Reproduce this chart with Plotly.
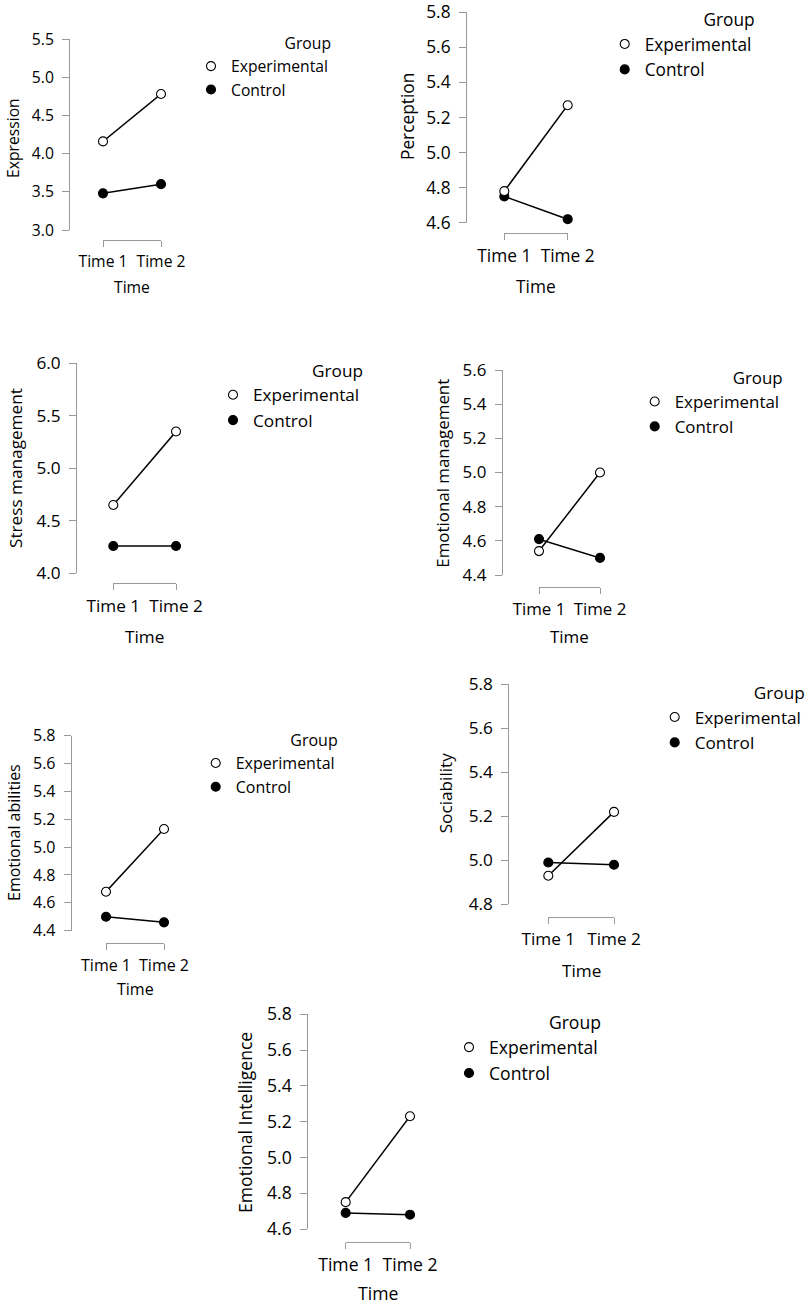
import plotly.graph_objects as go

W, H = 807, 1307

times = ["Time 1", "Time 2"]
groups = ["Experimental", "Control"]

panel_names = [
    "Expression",
    "Perception",
    "Stress management",
    "Emotional management",
    "Emotional abilities",
    "Sociability",
    "Emotional Intelligence",
]

experimental = [
    [4.16, 4.78],
    [4.78, 5.27],
    [4.65, 5.35],
    [4.54, 5.00],
    [4.68, 5.13],
    [4.93, 5.22],
    [4.75, 5.23],
]

control = [
    [3.48, 3.60],
    [4.75, 4.62],
    [4.26, 4.26],
    [4.61, 4.50],
    [4.50, 4.46],
    [4.99, 4.98],
    [4.69, 4.68],
]

# y tick range per panel: (low, high, step)
y_ticks = [
    (3.0, 5.5, 0.5),
    (4.6, 5.8, 0.2),
    (4.0, 6.0, 0.5),
    (4.4, 5.6, 0.2),
    (4.4, 5.8, 0.2),
    (4.8, 5.8, 0.2),
    (4.6, 5.8, 0.2),
]

# where each panel sits, in pixels of the 807x1307 page
# legt = x where legend text starts, legy = y of first legend entry
geom = [
    dict(ax=69, top=39, bot=230, t1=103, t2=161, br=240, fs=15.7, ytx=13, yty=138, xty=287, legt=228, legy=67),
    dict(ax=466, top=12.3, bot=222.7, t1=504.3, t2=567.7, br=233, fs=17.3, ytx=407, yty=117, xty=286, legt=641.7, legy=41.7),
    dict(ax=76, top=363.3, bot=573.3, t1=113.3, t2=176, br=583.3, fs=17.2, ytx=15, yty=468, xty=636, legt=250, legy=392.7),
    dict(ax=501.7, top=370, bot=575, t1=539, t2=600, br=586.7, fs=16.9, ytx=442.7, yty=473, xty=636, legt=671.7, legy=400),
    dict(ax=70.7, top=735.7, bot=930.7, t1=106, t2=164, br=943.3, fs=16, ytx=14, yty=833, xty=989.3, legt=232.7, legy=763.3),
    dict(ax=508.3, top=684.3, bot=904.3, t1=548.3, t2=614, br=916.7, fs=17.2, ytx=445, yty=793.3, xty=970, legt=691.7, legy=715),
    dict(ax=307.3, top=1014.3, bot=1229, t1=345.7, t2=410, br=1241.7, fs=17.6, ytx=245, yty=1123, xty=1293.3, legt=486, legy=1044.3),
]

FONT = "Open Sans"
AXIS_GREY = "#9a9a9a"

fig = go.Figure()
layout = {}
annotations = []

for i, name in enumerate(panel_names):
    g = geom[i]
    n = "" if i == 0 else str(i + 1)
    lo, hi, step = y_ticks[i]
    leg = "legend" if i == 0 else "legend" + str(i + 1)
    fs = g["fs"]

    # lines first, markers on top (Experimental last so it sits above)
    for vals in (control[i], experimental[i]):
        fig.add_trace(go.Scatter(
            x=[0, 1], y=vals, mode="lines",
            line=dict(color="black", width=1.5),
            xaxis="x" + n, yaxis="y" + n,
            showlegend=False, hoverinfo="skip",
        ))
    for gname, vals, fill in (("Control", control[i], "black"),
                              ("Experimental", experimental[i], "white")):
        fig.add_trace(go.Scatter(
            x=[0, 1], y=vals, mode="markers", name=gname,
            marker=dict(symbol="circle", size=9, color=fill,
                        line=dict(color="black", width=1.1)),
            xaxis="x" + n, yaxis="y" + n,
            legend=leg, cliponaxis=False,
            customdata=times, hovertemplate="%{customdata}: %{y:.2f}<extra>" + gname + "</extra>",
        ))

    layout["xaxis" + n] = dict(
        domain=[g["t1"] / W, g["t2"] / W],
        anchor="free", position=1 - g["br"] / H,
        range=[0, 1], tickvals=[0, 1], ticktext=times,
        showline=True, linecolor=AXIS_GREY, linewidth=1,
        ticks="outside", ticklen=6, tickcolor=AXIS_GREY, tickwidth=1,
        ticklabelstandoff=1, automargin=False,
        showgrid=False, zeroline=False, fixedrange=True,
        tickfont=dict(family=FONT, size=fs, color="black"),
    )
    layout["yaxis" + n] = dict(
        domain=[1 - g["bot"] / H, 1 - g["top"] / H],
        anchor="free", position=g["ax"] / W,
        range=[lo - 1e-6, hi + 1e-6], tick0=lo, dtick=step, tickformat=".1f",
        showline=True, linecolor=AXIS_GREY, linewidth=1,
        ticks="outside", ticklen=7, tickcolor=AXIS_GREY, tickwidth=1,
        ticklabelstandoff=5, automargin=False,
        showgrid=False, zeroline=False, fixedrange=True,
        tickfont=dict(family=FONT, size=fs, color="black"),
    )
    layout[leg] = dict(
        x=(g["legt"] - 37) / W, y=1 - (g["legy"] - 38) / H,
        xanchor="left", yanchor="top",
        bgcolor="rgba(0,0,0,0)",
        traceorder="reversed",
        title=dict(text="Group", side="top right", font=dict(family=FONT, size=fs, color="black")),
        font=dict(family=FONT, size=fs, color="black"),
    )
    annotations.append(dict(
        text="Time", x=(g["t1"] + g["t2"]) / 2 / W, y=1 - g["xty"] / H,
        xref="paper", yref="paper", xanchor="center", yanchor="middle",
        showarrow=False, font=dict(family=FONT, size=fs, color="black"),
    ))
    annotations.append(dict(
        text=name, x=g["ytx"] / W, y=1 - g["yty"] / H, textangle=-90,
        xref="paper", yref="paper", xanchor="center", yanchor="middle",
        showarrow=False, font=dict(family=FONT, size=fs, color="black"),
    ))

fig.update_layout(
    width=W, height=H,
    margin=dict(l=0, r=0, t=0, b=0, autoexpand=False),
    paper_bgcolor="white", plot_bgcolor="white",
    annotations=annotations,
    **layout,
)

# the page's default 8px body margin would push the figure off the window
fig.write_html("out.html", config={"displayModeBar": False},
               post_script="document.body.style.margin = '0';")
